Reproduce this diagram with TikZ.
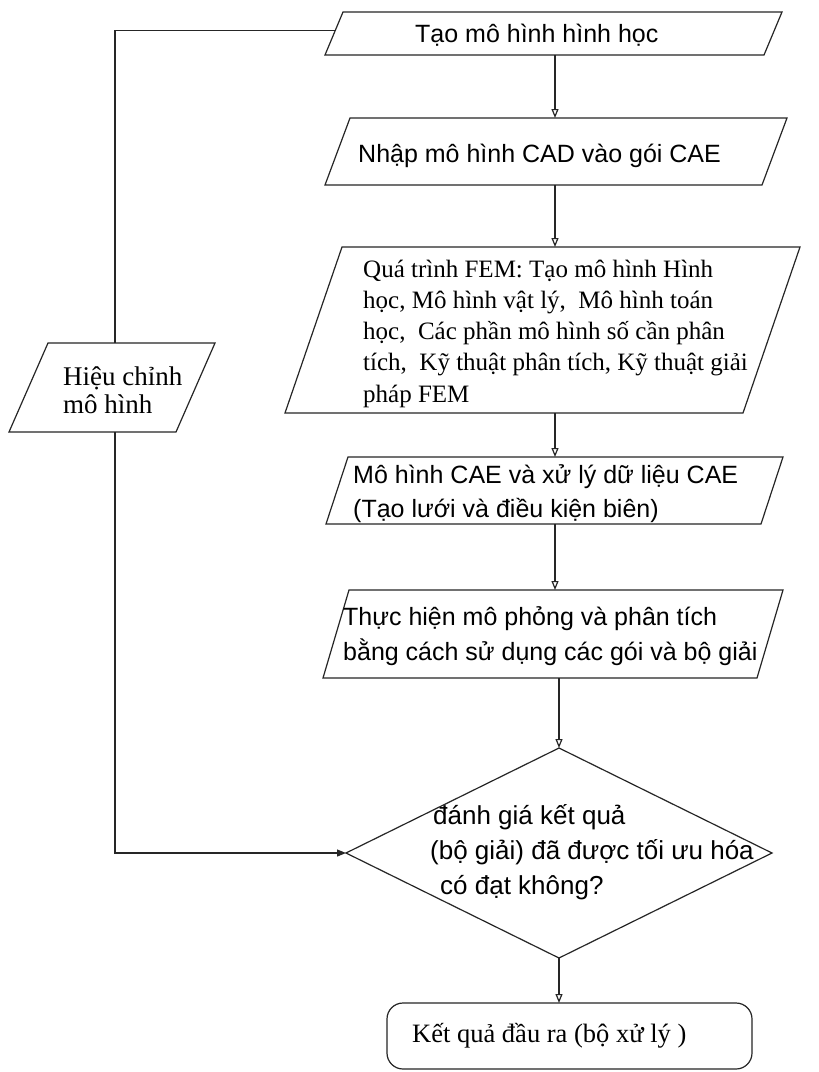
\documentclass[tikz,border=0pt]{standalone}
\usepackage{fontspec}
\setmainfont{Liberation Serif}
\newfontfamily\arialf{Liberation Sans}
\usetikzlibrary{arrows.meta,shapes.geometric,calc,fit}
\newcommand\parabox[6]{%
  \node[fit={(#2,#4) (#3,#5)}, inner sep=0pt, outer sep=0pt] (#1) {};
  \draw[shapeline] ($(#1.north west)+(#6,0)$) -- (#1.north east) -- ($(#1.south east)-(#6,0)$) -- (#1.south west) -- cycle;}
\begin{document}
\begin{tikzpicture}[x=1pt,y=-1pt,
  shapeline/.style={draw=black!85, line width=1.2pt},
  arr/.style={draw=black!85, line width=1.2pt, -{Triangle[open,length=9pt,width=7pt]}},
  arrfill/.style={draw=black!85, line width=1.2pt, -{Triangle[length=9pt,width=7pt]}},
  sans/.style={anchor=base west, inner sep=0pt, font=\arialf\fontsize{25}{34}\selectfont},
  serif/.style={anchor=base west, inner sep=0pt}]
\useasboundingbox (0,0) rectangle (819,1072);
\fill[white] (0,0) rectangle (819,1072);

\parabox{b1}{325}{782}{12}{55}{18}
\parabox{b2}{325}{787}{118}{185}{25}
\parabox{b3}{285}{800}{247}{413}{57}
\parabox{b4}{326}{783}{457}{524}{22}
\parabox{b5}{323}{783}{590}{678}{26}
\parabox{bl}{9}{215}{343}{432}{39}

\node[diamond, draw=black!85, line width=1.2pt, minimum width=426pt, minimum height=210pt, inner sep=0pt, outer sep=0pt] (dia) at (559,853) {};
\node[draw=black!85, line width=1.2pt, rounded corners=16pt, minimum width=365pt, minimum height=66pt, inner sep=0pt, outer sep=0pt] (out) at (569.5,1036) {};

% texts
\node[sans] (t1) at (415,42) {Tạo mô hình hình học};
\node[sans] (t2) at (358,162) {Nhập mô hình CAD vào gói CAE};
\node[serif, font=\fontsize{25}{31.3}\selectfont] (t3) at (363,277) {\parbox[t]{440pt}{\raggedright Quá trình FEM: Tạo mô hình Hình\\học, Mô hình vật lý,~ Mô hình toán\\học,~ Các phần mô hình số cần phân\\tích,~ Kỹ thuật phân tích, Kỹ thuật giải\\pháp FEM}};
\node[sans] (t4) at (353,483) {\parbox[t]{440pt}{\raggedright Mô hình CAE và xử lý dữ liệu CAE\\(Tạo lưới và điều kiện biên)}};
\node[sans, font=\arialf\fontsize{25}{35}\selectfont] (t5) at (343,625) {\parbox[t]{440pt}{\raggedright Thực hiện mô phỏng và phân tích\\bằng cách sử dụng các gói và bộ giải}};
\node[serif, font=\fontsize{27}{28}\selectfont] (tl) at (63,385) {\parbox[t]{150pt}{\raggedright Hiệu chỉnh\\mô hình}};
\node[sans, font=\arialf\fontsize{26}{35}\selectfont] (td) at (430,824) {\parbox[t]{360pt}{\raggedright \hspace*{3pt}đánh giá kết quả\\(bộ giải) đã được tối ưu hóa\\\hspace*{10pt}có đạt không?}};
\node[serif, font=\fontsize{26.5}{30}\selectfont] (to) at (412,1042) {Kết quả đầu ra (bộ xử lý )};

% connectors
\coordinate (ax) at (555,0);
\coordinate (lx) at (115,0);
\draw[arr] (b1.south -| ax) -- (b2.north -| ax);
\draw[arr] (b2.south -| ax) -- (b3.north -| ax);
\draw[arr] (b3.south -| ax) -- (b4.north -| ax);
\draw[arr] (b4.south -| ax) -- (b5.north -| ax);
\draw[arr] (dia.north |- b5.south) -- (dia.north);
\draw[arr] (dia.south) -- (dia.south |- out.north);
\draw[shapeline] ($(b1.west)+(10.3,-3)$) -- ($(lx |- b1.west)+(0,-3)$) -- (lx |- bl.north);
\draw[arrfill] (lx |- bl.south) -- (lx |- dia.west) -- (dia.west);
\end{tikzpicture}
\end{document}
